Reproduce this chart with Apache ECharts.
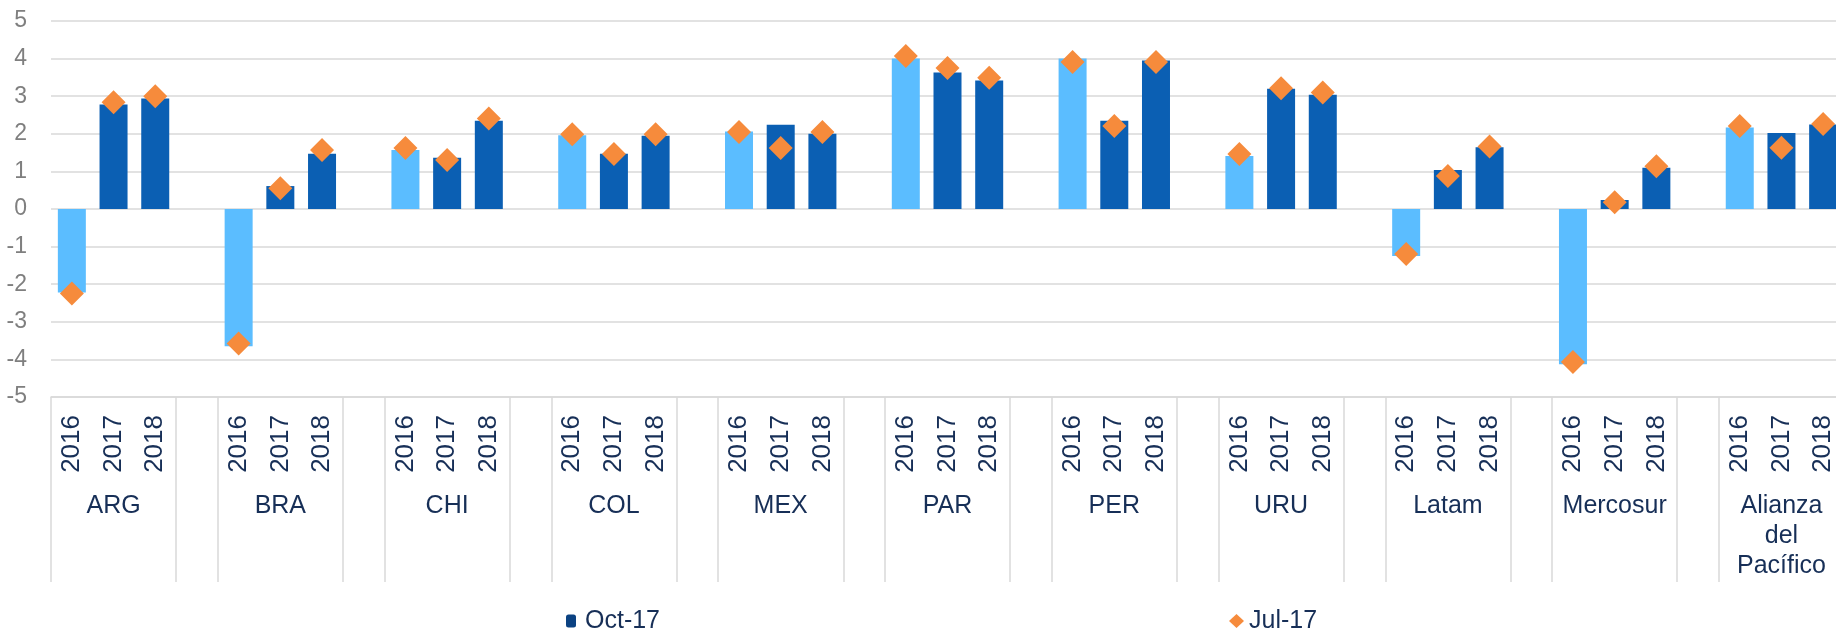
<!DOCTYPE html>
<html>
<head>
<meta charset="utf-8">
<script src="https://cdn.jsdelivr.net/npm/echarts@6/dist/echarts.min.js"></script>
<style>
  html, body { margin: 0; padding: 0; background: #fff; }
  #main { width: 1836px; height: 633px; }
</style>
</head>
<body>
<div id="main"></div>
<script>
// categorias y valores
var countries = ['ARG', 'BRA', 'CHI', 'COL', 'MEX', 'PAR', 'PER', 'URU', 'Latam', 'Mercosur', 'Alianza\ndel\nPacífico'];
var years = ['2016', '2017', '2018'];
var yTicks = [-5, -4, -3, -2, -1, 0, 1, 2, 3, 4, 5];

// Oct-17 (barras), 3 valores por pais
var oct17 = [
  -2.22, 2.78, 2.94,
  -3.65, 0.61, 1.47,
  1.57, 1.36, 2.35,
  1.96, 1.47, 1.95,
  2.06, 2.24, 2.00,
  4.00, 3.63, 3.42,
  4.00, 2.35, 3.95,
  1.41, 3.20, 3.04,
  -1.25, 1.04, 1.64,
  -4.13, 0.24, 1.10,
  2.17, 2.02, 2.25
];
// Jul-17 (rombos)
var jul17 = [
  -2.25, 2.84, 3.00,
  -3.58, 0.55, 1.57,
  1.62, 1.30, 2.41,
  1.99, 1.46, 1.99,
  2.05, 1.62, 2.05,
  4.07, 3.75, 3.49,
  3.91, 2.21, 3.91,
  1.46, 3.21, 3.10,
  -1.20, 0.88, 1.66,
  -4.07, 0.18, 1.14,
  2.21, 1.63, 2.26
];

var navy = '#172f57';
var font = 'Liberation Sans, Arial, sans-serif';

// slots: 3 años por pais + un hueco entre paises
var yearCats = [], countryCats = [], barData = [], dotData = [];
for (var i = 0; i < countries.length; i++) {
  for (var j = 0; j < years.length; j++) {
    var k = i * years.length + j;
    yearCats.push(years[j]);
    countryCats.push(j === 1 ? countries[i] : '');
    barData.push({
      value: oct17[k],
      itemStyle: { color: j === 0 ? '#5bbdff' : '#0b5fb3' }
    });
    dotData.push(jul17[k]);
  }
  if (i < countries.length - 1) {
    yearCats.push('');
    countryCats.push('');
    barData.push('-');
    dotData.push('-');
  }
}

var option = {
  animation: false,
  // el ultimo grupo queda cortado por el borde derecho, como en el original
  grid: { left: 51, width: 1793, top: 21, bottom: 236, containLabel: false, outerBoundsMode: 'none' },
  legend: [{
    data: ['Oct-17'],
    left: 566, top: 606, padding: 0,
    itemWidth: 10, itemHeight: 13,
    textStyle: { fontSize: 25, color: navy, fontFamily: font, padding: [0, 0, 0, 4], lineHeight: 30 }
  }, {
    data: ['Jul-17'],
    left: 1229, top: 606, padding: 0,
    itemWidth: 15, itemHeight: 14,
    textStyle: { fontSize: 25, color: navy, fontFamily: font, lineHeight: 30 }
  }],
  xAxis: [{
    type: 'category',
    data: yearCats,
    position: 'bottom',
    axisLine: { onZero: false, lineStyle: { color: '#d9d9d9', width: 1.5 } },
    axisTick: {
      show: true,
      length: 185,
      lineStyle: { color: '#d9d9d9', width: 1.5 },
      interval: function (index) { return index % 4 === 0 || index % 4 === 3; }
    },
    axisLabel: {
      interval: 0,
      rotate: 90,
      margin: 18,
      fontSize: 26,
      color: navy,
      fontFamily: font
    }
  }, {
    type: 'category',
    data: countryCats,
    position: 'bottom',
    axisLine: { show: false },
    axisTick: { show: false },
    axisLabel: {
      interval: function (index) { return index % 4 === 1; },
      margin: 94,
      fontSize: 25,
      lineHeight: 30,
      color: navy,
      fontFamily: font
    }
  }],
  yAxis: {
    type: 'value',
    min: yTicks[0],
    max: yTicks[yTicks.length - 1],
    interval: 1,
    axisLine: { show: false },
    axisTick: { show: false },
    axisLabel: { margin: 24, fontSize: 23, color: '#7f7f7f', fontFamily: font },
    splitLine: { lineStyle: { color: '#d9d9d9', width: 1.5 } }
  },
  series: [{
    name: 'Oct-17',
    type: 'bar',
    xAxisIndex: 0,
    data: barData,
    barWidth: 28,
    itemStyle: { color: '#0b4282' }
  }, {
    name: 'Jul-17',
    type: 'scatter',
    xAxisIndex: 0,
    data: dotData,
    symbol: 'diamond',
    symbolSize: 24,
    itemStyle: { color: '#f68b3c', opacity: 1 },
    z: 3
  }]
};

var myChart = echarts.init(document.getElementById('main'));
myChart.setOption(option);
</script>
</body>
</html>
